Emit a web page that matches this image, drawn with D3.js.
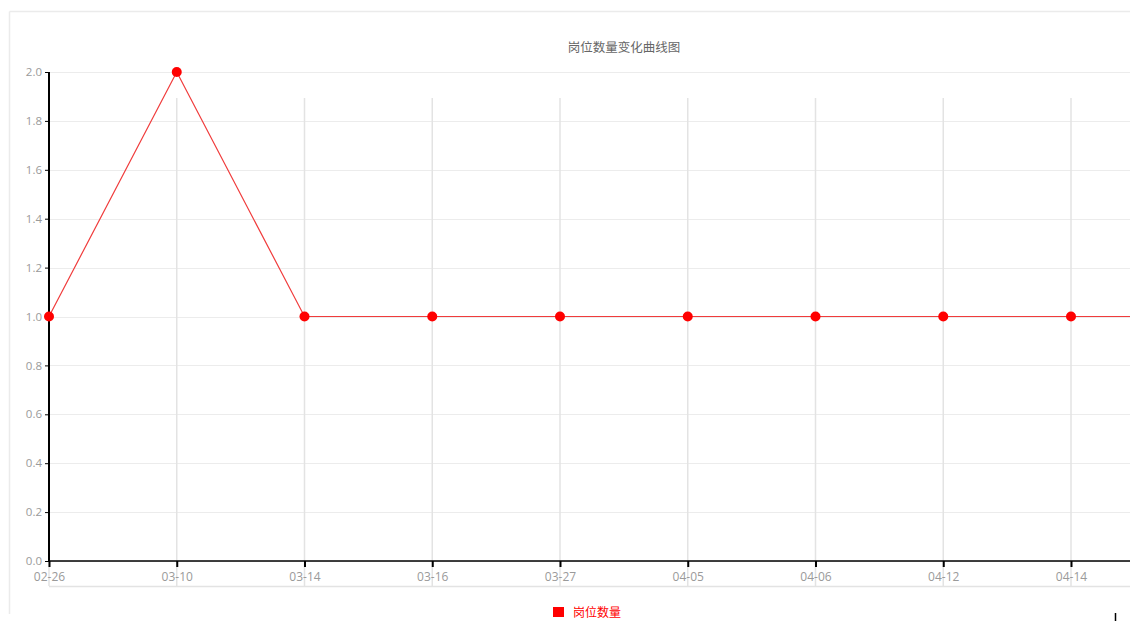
<!DOCTYPE html>
<html>
<head>
<meta charset="utf-8">
<script src="https://cdn.jsdelivr.net/npm/d3@7/dist/d3.min.js"></script>
<style>
  html, body { margin: 0; padding: 0; background: #fff; overflow: hidden; }
  svg { display: block; }
  text { font-family: "Noto Sans CJK SC", "Noto Sans", sans-serif; }
</style>
</head>
<body>
<svg id="chart" width="1134" height="621"></svg>
<script>
// Dates on the x axis (the last one runs past the visible panel)
const dates = ["02-26", "03-10", "03-14", "03-16", "03-27", "04-05", "04-06", "04-12", "04-14", "04-20"];
// Number of job posts per date
const counts = [1, 2, 1, 1, 1, 1, 1, 1, 1, 1];
const yTicks = [0, 0.2, 0.4, 0.6, 0.8, 1.0, 1.2, 1.4, 1.6, 1.8, 2.0];
const chartTitle = "岗位数量变化曲线图";
const seriesName = "岗位数量";

const svg = d3.select("#chart");

const plot = { left: 49, top: 72, bottom: 561, right: 1130 };
const step = 127.75;

const x = d3.scalePoint()
  .domain(dates)
  .range([plot.left, plot.left + step * (dates.length - 1)]);

const y = d3.scaleLinear()
  .domain([0, 2])
  .range([plot.bottom, plot.top]);

// dates whose position lies inside the panel
const shownDates = dates.filter(d => x(d) < plot.right);

// the panel is cut off at its right edge
svg.append("defs").append("clipPath").attr("id", "panel")
  .append("rect").attr("x", 0).attr("y", 0).attr("width", plot.right).attr("height", 621);

const g = svg.append("g").attr("clip-path", "url(#panel)");

// outer frame
g.append("line").attr("x1", 9.5).attr("x2", plot.right).attr("y1", 11.5).attr("y2", 11.5)
  .attr("stroke", "#ebebeb").attr("stroke-width", 1.5);
g.append("line").attr("x1", 9.5).attr("x2", 9.5).attr("y1", 11.5).attr("y2", 614)
  .attr("stroke", "#ebebeb").attr("stroke-width", 1.5);

// horizontal grid
g.append("g").selectAll("line").data(yTicks).join("line")
  .attr("x1", plot.left).attr("x2", plot.right)
  .attr("y1", d => Math.round(y(d)) + 0.5).attr("y2", d => Math.round(y(d)) + 0.5)
  .attr("stroke", "#ececec").attr("stroke-width", 1);

// vertical grid with its lower rule
g.append("g").selectAll("line").data(shownDates).join("line")
  .attr("x1", d => x(d)).attr("x2", d => x(d))
  .attr("y1", 98).attr("y2", 586)
  .attr("stroke", "#e3e3e3").attr("stroke-width", 1.5);
g.append("line").attr("x1", plot.left).attr("x2", plot.right)
  .attr("y1", 586.5).attr("y2", 586.5)
  .attr("stroke", "#e3e3e3").attr("stroke-width", 1.5);

// y axis
const yAxis = g.append("g").attr("transform", `translate(${plot.left},0)`)
  .call(d3.axisLeft(y).tickValues(yTicks).tickFormat(d3.format(".1f")).tickSize(4).tickPadding(3));
yAxis.select(".domain").attr("stroke", "#000").attr("stroke-width", 2).attr("d", `M0,${plot.bottom}V${plot.top}`);
yAxis.selectAll(".tick line").attr("stroke", "#000").attr("stroke-width", 1);
yAxis.selectAll(".tick text").attr("fill", "#9a9a9a").style("font-size", "11.5px")
  .style("font-family", "'Open Sans', 'Noto Sans', sans-serif");

// x axis
const xAxis = g.append("g").attr("transform", `translate(0,${plot.bottom})`)
  .call(d3.axisBottom(x).tickValues(shownDates).tickSize(6).tickPadding(5));
xAxis.select(".domain").attr("stroke", "#000").attr("stroke-width", 1.5)
  .attr("d", `M${plot.left},0H${plot.right}`);
xAxis.selectAll(".tick line").attr("stroke", "#000").attr("stroke-width", 2);
xAxis.selectAll(".tick text").attr("fill", "#9a9a9a").style("font-size", "12px")
  .style("font-family", "'Open Sans', 'Noto Sans', sans-serif");

// series line
const line = d3.line().x((d, i) => x(dates[i])).y(d => y(d));
g.append("path").datum(counts)
  .attr("d", line).attr("fill", "none")
  .attr("stroke", "#f03c3c").attr("stroke-width", 1.2);

g.append("g").selectAll("circle").data(counts.filter((d, i) => x(dates[i]) < plot.right)).join("circle")
  .attr("cx", (d, i) => x(dates[i])).attr("cy", d => y(d))
  .attr("r", 5).attr("fill", "#f00");

// title
g.append("text").attr("x", 624).attr("y", 52).attr("text-anchor", "middle")
  .attr("fill", "#666").style("font-size", "12.5px").text(chartTitle);

// legend
g.append("rect").attr("x", 553).attr("y", 607).attr("width", 11).attr("height", 10).attr("fill", "#f00");
g.append("text").attr("x", 573).attr("y", 617).attr("fill", "#f00")
  .style("font-size", "12px").text(seriesName);

// text caret at the lower right
svg.append("line").attr("x1", 1115.5).attr("x2", 1115.5).attr("y1", 613).attr("y2", 621)
  .attr("stroke", "#000").attr("stroke-width", 1.5);
</script>
</body>
</html>
